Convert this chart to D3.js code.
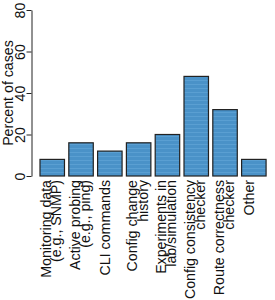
<!DOCTYPE html>
<html>
<head>
<meta charset="utf-8">
<script src="https://cdn.jsdelivr.net/npm/d3@7"></script>
<style>
  html, body { margin: 0; padding: 0; background: #fff; }
  text { font-family: "Liberation Sans", Arial, Helvetica, sans-serif; }
</style>
</head>
<body>
<svg id="chart" width="275" height="300"></svg>
<script>
const categories = [
  ["Monitoring data", "(e.g., SNMP)"],
  ["Active probing", "(e.g., ping)"],
  ["CLI commands"],
  ["Config change", "history"],
  ["Experiments in", "lab/simulation"],
  ["Config consistency", "checker"],
  ["Route correctness", "checker"],
  ["Other"]
];
const values = [8, 16, 12, 16, 20, 48, 32, 8];
const yTicks = [0, 20, 40, 60, 80];
const yTitle = "Percent of cases";

const svg = d3.select("#chart");
const FS = 14.2;

// stripe pattern for bar fill
const defs = svg.append("defs");
const pat = defs.append("pattern")
  .attr("id", "stripes")
  .attr("patternUnits", "userSpaceOnUse")
  .attr("width", 6).attr("height", 4);
pat.append("rect").attr("width", 6).attr("height", 4).attr("fill", "#4a92c8");
pat.append("rect").attr("y", 0).attr("width", 6).attr("height", 1).attr("fill", "#5a9fd2");

const keys = categories.map(c => c.join(" "));
const x = d3.scaleBand().domain(keys).range([37.84, 268.24])
  .paddingInner(0.15).paddingOuter(0.075);
const y = d3.scaleLinear().domain([0, 80]).range([176, 10]);

// bars
svg.append("g").selectAll("rect").data(values).join("rect")
  .attr("x", (d, i) => x(keys[i]))
  .attr("y", d => y(d))
  .attr("width", x.bandwidth())
  .attr("height", d => y(0) - y(d))
  .attr("fill", "url(#stripes)")
  .attr("stroke", "#222")
  .attr("stroke-width", 1.2);

// y axis
const yAxis = svg.append("g")
  .attr("transform", "translate(31.5,0)")
  .call(d3.axisLeft(y).tickValues(yTicks).tickSize(5).tickSizeOuter(0));
yAxis.select(".domain").attr("stroke", "#222");
yAxis.selectAll(".tick line").attr("stroke", "#222");
yAxis.selectAll(".tick text")
  .attr("x", null).attr("dy", null)
  .attr("transform", "translate(-7,0) rotate(-90)")
  .attr("text-anchor", "middle")
  .attr("font-size", FS)
  .attr("font-family", "Liberation Sans, Arial, sans-serif")
  .attr("fill", "#111");

// y title
svg.append("text")
  .attr("transform", `translate(13,${y(40)}) rotate(-90)`)
  .attr("text-anchor", "middle")
  .attr("font-size", FS)
  .attr("fill", "#111")
  .text(yTitle);

// category labels
const labels = svg.append("g");
categories.forEach((lines, i) => {
  const cx = x(keys[i]) + x.bandwidth() / 2;
  const offs = lines.length === 1 ? [0] : [-1.5, 9];
  lines.forEach((ln, j) => {
    labels.append("text")
      .attr("transform", `translate(${cx + offs[j]},180) rotate(-90)`)
      .attr("text-anchor", "end")
      .attr("font-size", FS)
      .attr("fill", "#111")
      .text(ln);
  });
});
</script>
</body>
</html>
